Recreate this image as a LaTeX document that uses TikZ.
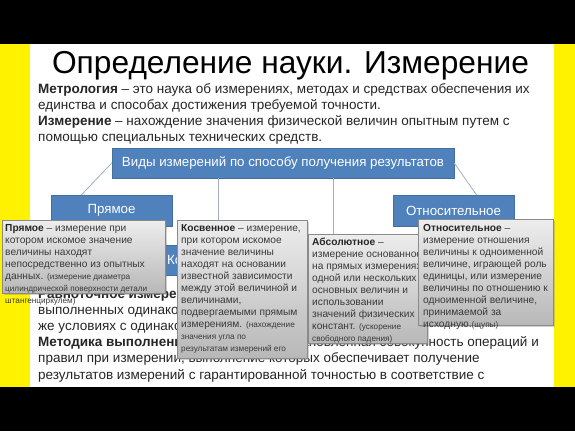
\documentclass[tikz,border=0pt]{standalone}
\usepackage{fontspec}
\setmainfont{Liberation Sans}
\usetikzlibrary{shadows}
\definecolor{slideblue}{HTML}{4F81BD}
\definecolor{blueedge}{HTML}{41719C}
\definecolor{linkc}{HTML}{A3AFC2}
\definecolor{bodyc}{HTML}{262626}
\definecolor{callgray}{HTML}{8A8A8A}
\definecolor{calltextc}{HTML}{3A3A3A}
\definecolor{sideyellow}{HTML}{FFF200}
\newcommand{\smalltxt}[1]{{\fontsize{8.2}{12}\selectfont #1}}
\newcommand{\kw}[1]{{\bfseries\color{black!85}#1}}
\tikzset{
  bluebox/.style={draw=blueedge, fill=slideblue, text=white, inner sep=0pt,
    font=\fontsize{13.3}{16}\selectfont},
  callbox/.style={draw=callgray, top color=black!7, bottom color=black!28,
    inner sep=0pt, anchor=north west,
    drop shadow={shadow xshift=2pt, shadow yshift=-2pt, opacity=0.35}},
  calltext/.style={font=\fontsize{10.2}{12}\selectfont, text=calltextc,
    align=left, inner sep=0pt, anchor=base west},
  bodytext/.style={font=\fontsize{13.5}{16.2}\selectfont, text=bodyc,
    align=left, inner sep=0pt, anchor=base west},
  link/.style={draw=linkc, line width=0.8pt}
}
\begin{document}
\begin{tikzpicture}[x=1pt, y=-1pt]
  \useasboundingbox (0,0) rectangle (575,431);
  % Slide frame
  \fill[black] (0,0) rectangle (575,44);
  \fill[black] (0,387) rectangle (575,431);
  \fill[sideyellow] (0,44) rectangle (30,387);
  \fill[sideyellow] (554,44) rectangle (575,387);
  \fill[white] (30,44) rectangle (554,387);

  % Title and definitions (text nodes sit on their last baseline)
  \node[anchor=base, inner sep=0pt, font=\fontsize{31.7}{36}\selectfont] (title) at (290.5,73)
    {Определение науки. Измерение};
  \node[bodytext] (intro) at (38,141.6)
    {\kw{Метрология} – это наука об измерениях, методах и средствах обеспечения их\\
     единства и способах достижения требуемой точности.\\
     \kw{Измерение} – нахождение значения физической величин опытным путем с\\
     помощью специальных технических средств.};

  % Text under the callouts
  \node[bodytext] (outro) at (38,379)
    {\kw{Равноточное измерение} – ряд измерений какой-либо величины,\\
     выполненных одинаковыми по точности средствами измерений в одних и тех\\
     же условиях с одинаковой тщательностью.\\
     \kw{Методика выполнения измерений} – установленная совокупность операций и\\
     правил при измерении, выполнение которых обеспечивает получение\\
     результатов измерений с гарантированной точностью в соответствие с};

  % Hierarchy of kinds
  \node[bluebox, minimum width=342pt, minimum height=30pt] (vid) at (283,163)
    {Виды измерений по способу получения результатов};
  \node[bluebox, minimum width=121pt, minimum height=31pt] (pryam) at (111.5,210.5) {Прямое};
  \node[bluebox, minimum width=121pt, minimum height=31pt] (otn) at (453.5,210.5) {Относительное};
  \node[bluebox, minimum width=122pt, minimum height=30pt] (kos) at (200,260) {Косвенное};

  \draw[link] (vid.west) -- ([xshift=-30pt]pryam.north);
  \draw[link] (vid.east) -- ([xshift=23pt]otn.north);
  \draw[link] ([xshift=-65pt]vid.south) -- ([xshift=-65pt]vid.south |- kos.north);

  % Callouts
  \node[callbox, minimum width=163pt, minimum height=73pt] (pryamcall) at (2,220) {};
  \node[calltext] (pryamtxt) at (5,303)
    {\kw{Прямое} – измерение при\\
     котором искомое значение\\
     величины находят\\
     непосредственно из опытных\\
     данных. \smalltxt{(измерение диаметра}\\
     \smalltxt{цилиндрической поверхности детали}\\
     \smalltxt{штангенциркулем)}};

  \node[callbox, minimum width=130pt, minimum height=138pt] (koscall) at (177,220) {};
  \node[calltext] (kostxt) at (181,351)
    {\kw{Косвенное} – измерение,\\
     при котором искомое\\
     значение величины\\
     находят на основании\\
     известной зависимости\\
     между этой величиной и\\
     величинами,\\
     подвергаемыми прямым\\
     измерениям. \smalltxt{(нахождение}\\
     \smalltxt{значения угла по}\\
     \smalltxt{результатам измерений его}};

  \node[callbox, minimum width=119pt, minimum height=109pt] (abscall) at (308,234) {};
  \draw[link] ([xshift=50pt]vid.south) -- ([xshift=50pt]vid.south |- abscall.north);
  \node[calltext] (abstxt) at (312,341)
    {\kw{Абсолютное} –\\
     измерение основанное\\
     на прямых измерениях\\
     одной или нескольких\\
     основных величин и\\
     использовании\\
     значений физических\\
     констант. \smalltxt{(ускорение}\\
     \smalltxt{свободного падения)}};

  \node[callbox, minimum width=135pt, minimum height=106pt] (otncall) at (418,219) {};
  \node[calltext] (otntxt) at (423,327)
    {\kw{Относительное} –\\
     измерение отношения\\
     величины к одноименной\\
     величине, играющей роль\\
     единицы, или измерение\\
     величины по отношению к\\
     одноименной величине,\\
     принимаемой за\\
     исходную.\smalltxt{(щупы)}};
\end{tikzpicture}
\end{document}
